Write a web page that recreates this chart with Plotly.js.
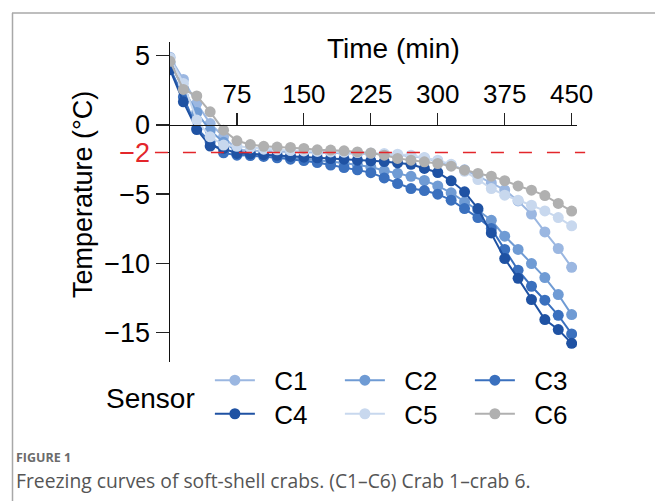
<!DOCTYPE html>
<html>
<head>
<meta charset="utf-8">
<script src="https://cdn.plot.ly/plotly-3.0.1.min.js"></script>
<style>html,body{margin:0;padding:0;background:#fff;}#chart{width:655px;height:501px;}</style>
</head>
<body>
<div id="chart"></div>
<script>
// Time (min)
const time = [0,15,30,45,60,75,90,105,120,135,150,165,180,195,210,225,240,255,270,285,300,315,330,345,360,375,390,405,420,435,450];
// Temperature (°C) per sensor
const C1 = [4.9,3.29,1.56,0.1,-0.86,-1.8,-1.85,-1.9,-1.92,-1.95,-1.98,-2.0,-2.02,-2.05,-2.07,-2.1,-2.12,-2.18,-2.25,-2.4,-2.62,-2.9,-3.25,-3.7,-4.2,-4.7,-5.5,-6.45,-7.74,-8.94,-10.3];
const C2 = [4.5,2.6,0.9,-0.4,-1.25,-1.9,-2.05,-2.15,-2.25,-2.32,-2.4,-2.5,-2.62,-2.75,-2.9,-3.05,-3.3,-3.5,-3.72,-4.02,-4.41,-4.91,-5.57,-6.17,-6.9,-8.05,-9.01,-10.03,-11.04,-12.27,-13.72];
const C3 = [4.1,2.03,-0.25,-1.22,-2.02,-2.19,-2.22,-2.28,-2.38,-2.48,-2.58,-2.72,-2.9,-3.08,-3.25,-3.45,-3.83,-4.24,-4.6,-4.75,-5.01,-5.44,-6.05,-6.7,-7.5,-9.01,-10.51,-11.67,-12.68,-13.77,-15.12];
const C4 = [4.0,1.67,-0.33,-1.53,-1.7,-2.06,-2.1,-2.15,-2.2,-2.28,-2.33,-2.38,-2.43,-2.48,-2.55,-2.6,-2.65,-2.75,-2.85,-3.15,-3.44,-4.04,-4.84,-6.05,-7.81,-9.67,-11.1,-12.63,-14.08,-14.8,-15.8];
const C5 = [4.85,3.0,0.35,-0.86,-1.46,-1.55,-1.65,-1.75,-1.8,-1.85,-1.88,-1.92,-1.95,-1.97,-2.0,-2.03,-2.07,-2.12,-2.2,-2.35,-2.55,-2.85,-3.35,-3.95,-4.6,-5.08,-5.44,-5.81,-6.22,-6.7,-7.3];
const C6 = [4.6,2.57,2.1,0.95,-0.38,-1.15,-1.42,-1.55,-1.6,-1.63,-1.7,-1.8,-1.82,-1.87,-1.95,-2.03,-2.19,-2.42,-2.55,-2.67,-2.79,-2.98,-3.27,-3.51,-3.71,-4.03,-4.41,-4.72,-5.11,-5.68,-6.23];

const seriesNames = ['C1','C2','C3','C4','C5','C6'];
const seriesData = [C1,C2,C3,C4,C5,C6];
const seriesColors = ['#9bb7e1','#6f9bd4','#3a70be','#1f52a3','#c8d8ee','#b0b0b0'];
const seriesLegend = ['legend','legend','legend','legend2','legend2','legend2'];

const xTickVals = [75,150,225,300,375,450];
const yTickVals = [5,0,-2,-5,-10,-15];
const yTickText = ['5','0','<span style="color:#e3262b">\u22122</span>','\u22125','\u221210','\u221215'];
const freezeTemp = -2;

const FONT = 'Liberation Sans, Arial, Helvetica, sans-serif';

const traces = seriesNames.map((n,i)=>({
  type:'scatter', mode:'lines+markers', name:'\u2007' + n, x:time, y:seriesData[i],
  line:{color:seriesColors[i], width:2},
  marker:{color:seriesColors[i], size:11},
  legend: seriesLegend[i],
  hoverinfo:'skip'
}));

const yMin = -17.15, yMax = 6.0;
const x0pos = (0 - yMin)/(yMax - yMin);

const legendBase = {
  orientation:'h', xanchor:'left', yanchor:'middle',
  font:{family:FONT, size:26, color:'#000'},
  entrywidth:75, entrywidthmode:'pixels', itemwidth:40,
  bgcolor:'rgba(0,0,0,0)', tracegroupgap:0, itemclick:false
};

const layout = {
  width:655, height:501,
  margin:{l:170, r:78, t:42, b:139},
  paper_bgcolor:'#fff', plot_bgcolor:'#fff',
  showlegend:true,
  font:{family:FONT, color:'#000'},
  xaxis:{
    range:[0,456], anchor:'free', position:x0pos, side:'top',
    tickvals:xTickVals, ticks:'outside', ticklen:12, tickwidth:1.2, tickcolor:'#222',
    tickfont:{family:FONT, size:26, color:'#000'},
    showline:true, linecolor:'#111', linewidth:1.5,
    showgrid:false, zeroline:false
  },
  yaxis:{
    range:[yMin,yMax], tickvals:yTickVals, ticktext:yTickText,
    ticks:'outside', ticklen:13, tickwidth:1.2, tickcolor:'#222',
    tickfont:{family:FONT, size:27, color:'#000'},
    showline:true, linecolor:'#111', linewidth:1.5,
    showgrid:false, zeroline:false
  },
  legend: Object.assign({}, legendBase, {x:0.098, y:-0.057}),
  legend2: Object.assign({}, legendBase, {x:0.098, y:-0.162}),
  shapes:[
    {type:'line', xref:'paper', yref:'y', x0:-0.037, x1:1.02, y0:freezeTemp, y1:freezeTemp,
     line:{color:'#e3262b', width:1.5, dash:'13px,15px'}, layer:'above'},
    {type:'line', xref:'paper', yref:'paper', x0:(12.5-170)/407, x1:(12.5-170)/407, y0:(362-13)/320, y1:-0.5,
     line:{color:'#a8a8a8', width:1.5}},
    {type:'line', xref:'paper', yref:'paper', x0:(12-170)/407, x1:(660-170)/407, y0:(362-13)/320, y1:(362-13)/320,
     line:{color:'#a8a8a8', width:1.5}}
  ],
  annotations:[
    {text:'Time (min)', xref:'paper', yref:'paper', x:(393-170)/407, y:(362-49)/320, showarrow:false,
     font:{family:FONT, size:28, color:'#000'}, xanchor:'center', yanchor:'middle'},
    {text:'Temperature (\u00b0C)', xref:'paper', yref:'paper', x:(83-170)/407, y:(362-195)/320, showarrow:false,
     textangle:-90, font:{family:FONT, size:27, color:'#000'}, xanchor:'center', yanchor:'middle'},
    {text:'Sensor', xref:'paper', yref:'paper', x:(150-170)/407, y:(362-398)/320, showarrow:false,
     font:{family:FONT, size:28, color:'#000'}, xanchor:'center', yanchor:'middle'},
    {text:'<b>FIGURE 1</b>', xref:'paper', yref:'paper', x:(14-170)/407, y:(362-457)/320, showarrow:false,
     font:{family:'Open Sans, sans-serif', size:12.5, color:'#6b6b6b'}, xanchor:'left', yanchor:'middle'},
    {text:'Freezing curves of soft-shell crabs. (C1\u2013C6) Crab 1\u2013crab 6.', xref:'paper', yref:'paper',
     x:(14-170)/407, y:(362-480)/320, showarrow:false,
     font:{family:'Open Sans, sans-serif', size:19.3, color:'#555'}, xanchor:'left', yanchor:'middle'}
  ]
};

Plotly.newPlot('chart', traces, layout, {displayModeBar:false, staticPlot:true});
</script>
</body>
</html>
